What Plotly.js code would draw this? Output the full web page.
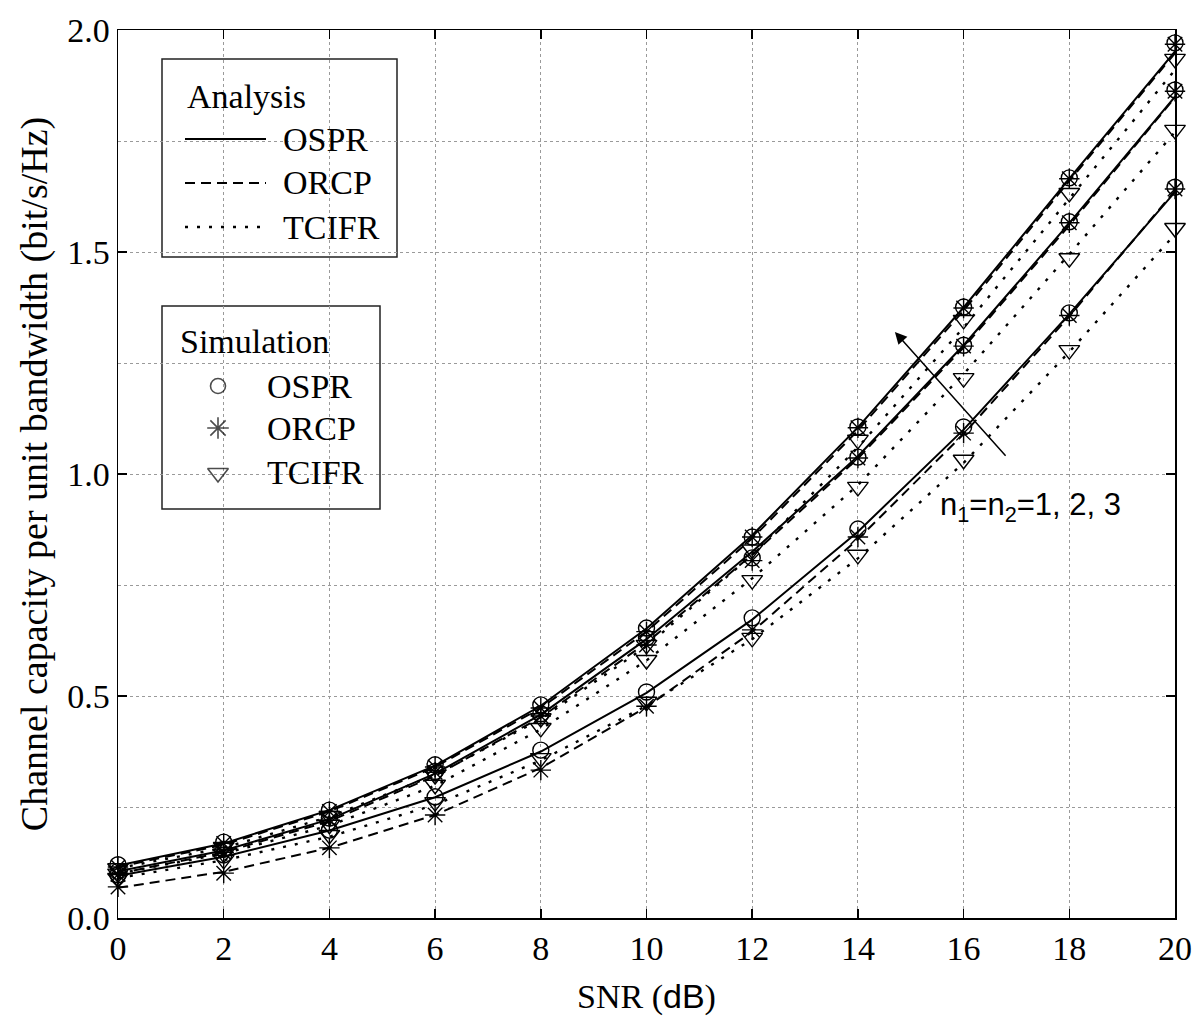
<!DOCTYPE html>
<html>
<head>
<meta charset="utf-8">
<script src="https://cdn.plot.ly/plotly-3.0.1.min.js"></script>
<style>html,body{margin:0;padding:0;background:#fff;}#chart{width:1200px;height:1022px;}</style>
</head>
<body>
<div id="chart"></div>
<script>
// ---- Data ----
const snr = [0, 2, 4, 6, 8, 10, 12, 14, 16, 18, 20];

// Analysis curves, n1=n2=3 (top group)
const ospr3_ana  = [0.118, 0.168, 0.243, 0.343, 0.478, 0.652, 0.862, 1.105, 1.375, 1.665, 1.952];
const orcp3_ana  = [0.115, 0.165, 0.240, 0.340, 0.473, 0.645, 0.855, 1.098, 1.368, 1.660, 1.948];
const tcifr3_ana = [0.112, 0.158, 0.228, 0.322, 0.448, 0.612, 0.818, 1.060, 1.330, 1.620, 1.910];
// Analysis curves, n1=n2=2 (middle group)
const ospr2_ana  = [0.105, 0.152, 0.222, 0.325, 0.458, 0.628, 0.825, 1.040, 1.290, 1.565, 1.850];
const orcp2_ana  = [0.100, 0.148, 0.218, 0.320, 0.452, 0.620, 0.818, 1.035, 1.285, 1.560, 1.848];
const tcifr2_ana = [0.100, 0.145, 0.208, 0.298, 0.425, 0.580, 0.765, 0.975, 1.225, 1.495, 1.770];
// Analysis curves, n1=n2=1 (bottom group)
const ospr1_ana  = [0.095, 0.138, 0.197, 0.272, 0.375, 0.507, 0.672, 0.870, 1.100, 1.360, 1.635];
const orcp1_ana  = [0.068, 0.104, 0.158, 0.232, 0.338, 0.475, 0.645, 0.853, 1.090, 1.355, 1.638];
const tcifr1_ana = [0.090, 0.130, 0.183, 0.255, 0.355, 0.478, 0.628, 0.810, 1.025, 1.275, 1.540];

// Simulation points
const ospr3_sim  = [0.120, 0.171, 0.243, 0.345, 0.480, 0.653, 0.858, 1.106, 1.376, 1.667, 1.971];
const orcp3_sim  = [0.115, 0.168, 0.240, 0.340, 0.473, 0.645, 0.858, 1.104, 1.374, 1.665, 1.968];
const tcifr3_sim = [0.112, 0.160, 0.230, 0.322, 0.450, 0.615, 0.830, 1.077, 1.347, 1.633, 1.935];
const ospr2_sim  = [0.105, 0.155, 0.225, 0.330, 0.460, 0.631, 0.811, 1.038, 1.290, 1.568, 1.865];
const orcp2_sim  = [0.098, 0.148, 0.220, 0.328, 0.455, 0.615, 0.805, 1.036, 1.288, 1.566, 1.862];
const tcifr2_sim = [0.100, 0.145, 0.210, 0.300, 0.428, 0.581, 0.761, 0.971, 1.216, 1.486, 1.775];
const ospr1_sim  = [0.097, 0.142, 0.198, 0.273, 0.378, 0.509, 0.676, 0.876, 1.106, 1.363, 1.646];
const orcp1_sim  = [0.070, 0.101, 0.158, 0.232, 0.333, 0.477, 0.649, 0.858, 1.092, 1.357, 1.642];
const tcifr1_sim = [0.090, 0.131, 0.187, 0.261, 0.360, 0.487, 0.631, 0.818, 1.032, 1.279, 1.554];

const schemes = ['OSPR', 'ORCP', 'TCIFR'];
const legendTitles = ['Analysis', 'Simulation'];
const curveLabel = 'n<sub>1</sub>=n<sub>2</sub>=1, 2, 3';
const xTitle = 'SNR (<span style="font-family:Liberation Sans">dB</span>)';
const yTitle = 'Channel capacity per unit bandwidth (bit/s/Hz)';

// ---- Styles ----
const SERIF = 'Liberation Serif';
const SANS = 'Liberation Sans';
const lineStyle = {
  OSPR: {color: '#000', width: 2, dash: 'solid'},
  ORCP: {color: '#000', width: 2, dash: '10px,6px'},
  TCIFR: {color: '#000', width: 2.4, dash: '3px,9px'}
};
const markerStyle = {
  OSPR: {symbol: 'circle-open', size: 16, color: '#000', line: {color: '#000', width: 1.4}},
  ORCP: {symbol: 'asterisk-open', size: 17, color: '#000', line: {color: '#000', width: 1.4}},
  TCIFR: {symbol: 'triangle-down-open', size: 18, color: '#000', line: {color: '#000', width: 1.4}}
};

const anaSets = {OSPR: [ospr1_ana, ospr2_ana, ospr3_ana], ORCP: [orcp1_ana, orcp2_ana, orcp3_ana], TCIFR: [tcifr1_ana, tcifr2_ana, tcifr3_ana]};
const simSets = {OSPR: [ospr1_sim, ospr2_sim, ospr3_sim], ORCP: [orcp1_sim, orcp2_sim, orcp3_sim], TCIFR: [tcifr1_sim, tcifr2_sim, tcifr3_sim]};

const traces = [];
// analysis lines (TCIFR first so OSPR sits on top)
['TCIFR', 'ORCP', 'OSPR'].forEach(s => {
  anaSets[s].forEach((ys, i) => {
    traces.push({x: snr, y: ys, type: 'scatter', mode: 'lines', line: lineStyle[s], showlegend: false, hoverinfo: 'skip', name: s + ' analysis n=' + (i + 1)});
  });
});
// simulation markers
['TCIFR', 'ORCP', 'OSPR'].forEach(s => {
  simSets[s].forEach((ys, i) => {
    traces.push({x: snr, y: ys, type: 'scatter', mode: 'markers', marker: markerStyle[s], showlegend: false, hoverinfo: 'skip', name: s + ' simulation n=' + (i + 1), cliponaxis: false});
  });
});

// ---- Hand-drawn legend boxes (pixel layout converted to paper coords) ----
const PL = 118, PR = 1175, PT = 30, PB = 918;
const px = v => (v - PL) / (PR - PL);
const py = v => (PB - v) / (PB - PT);

const shapes = [];
const annotations = [];
// Analysis box
shapes.push({type: 'rect', xref: 'paper', yref: 'paper', x0: px(162), x1: px(397), y0: py(59), y1: py(257), line: {color: '#222', width: 1.5}, fillcolor: '#fff', layer: 'between'});
annotations.push({xref: 'paper', yref: 'paper', x: px(185), y: py(97), xanchor: 'left', yanchor: 'middle', text: legendTitles[0], showarrow: false, font: {family: SERIF, size: 34, color: '#000'}});
const anaRowY = [139, 183, 227];
schemes.forEach((s, i) => {
  shapes.push({type: 'line', xref: 'paper', yref: 'paper', x0: px(185), x1: px(266), y0: py(anaRowY[i]), y1: py(anaRowY[i]), line: lineStyle[s], layer: 'above'});
  annotations.push({xref: 'paper', yref: 'paper', x: px(281), y: py(anaRowY[i]), xanchor: 'left', yanchor: 'middle', text: s, showarrow: false, font: {family: SERIF, size: 34, color: '#000'}});
});
// Simulation box
shapes.push({type: 'rect', xref: 'paper', yref: 'paper', x0: px(162), x1: px(380), y0: py(306), y1: py(509), line: {color: '#222', width: 1.5}, fillcolor: '#fff', layer: 'between'});
annotations.push({xref: 'paper', yref: 'paper', x: px(178), y: py(342), xanchor: 'left', yanchor: 'middle', text: legendTitles[1], showarrow: false, font: {family: SERIF, size: 34, color: '#000'}});
const simRowY = [386, 428, 473];
schemes.forEach((s, i) => {
  annotations.push({xref: 'paper', yref: 'paper', x: px(265), y: py(simRowY[i]), xanchor: 'left', yanchor: 'middle', text: s, showarrow: false, font: {family: SERIF, size: 34, color: '#000'}});
});
// legend marker keys on an overlay axis spanning the plot area (0..1)
traces.push({
  x: simRowY.map(() => px(218)), y: simRowY.map(v => py(v)),
  xaxis: 'x2', yaxis: 'y2', type: 'scatter', mode: 'markers', showlegend: false, hoverinfo: 'skip',
  marker: {symbol: schemes.map(s => markerStyle[s].symbol), size: [15, 18, 18], color: '#000', line: {color: '#000', width: 1.6}}
});

// arrow and curve label
annotations.push({x: 14.70, y: 1.32, ax: 16.82, ay: 1.038, xref: 'x', yref: 'y', axref: 'x', ayref: 'y', showarrow: true, arrowhead: 2, arrowsize: 1.6, arrowwidth: 1.5, arrowcolor: '#000', text: ''});
annotations.push({x: 17.26, y: 0.925, xref: 'x', yref: 'y', text: curveLabel, showarrow: false, xanchor: 'center', yanchor: 'middle', font: {family: SANS, size: 31, color: '#000'}});

function axisBase() {
  return {
    showline: true, linecolor: '#000', linewidth: 1.5, mirror: 'ticks',
    ticks: 'inside', ticklen: 9, tickwidth: 1.5, tickcolor: '#000',
    showgrid: true, gridcolor: '#9a9a9a', gridwidth: 1, griddash: 'dot',
    zeroline: false, tickfont: {family: SERIF, size: 34, color: '#000'}
  };
}

const layout = {
  width: 1200, height: 1022,
  margin: {l: PL, r: 1200 - PR, t: PT, b: 1022 - PB},
  paper_bgcolor: '#fff', plot_bgcolor: '#fff',
  font: {family: SERIF, color: '#000'},
  showlegend: false,
  xaxis: Object.assign(axisBase(), {
    range: [0, 20], dtick: 2, tick0: 0,
    title: {text: xTitle, font: {family: SERIF, size: 34, color: '#000'}, standoff: 18}
  }),
  yaxis: Object.assign(axisBase(), {
    range: [0, 2], dtick: 0.5, tick0: 0, tickformat: '.1f',
    minor: {dtick: 0.25, showgrid: true, gridcolor: '#9a9a9a', gridwidth: 1, griddash: 'dot', ticks: ''},
    title: {text: yTitle, font: {family: SERIF, size: 38, color: '#000'}, standoff: 8}
  }),
  xaxis2: {overlaying: 'x', range: [0, 1], visible: false, fixedrange: true},
  yaxis2: {overlaying: 'y', range: [0, 1], visible: false, fixedrange: true},
  shapes: shapes,
  annotations: annotations
};

Plotly.newPlot('chart', traces, layout, {staticPlot: true, displayModeBar: false});
</script>
</body>
</html>
